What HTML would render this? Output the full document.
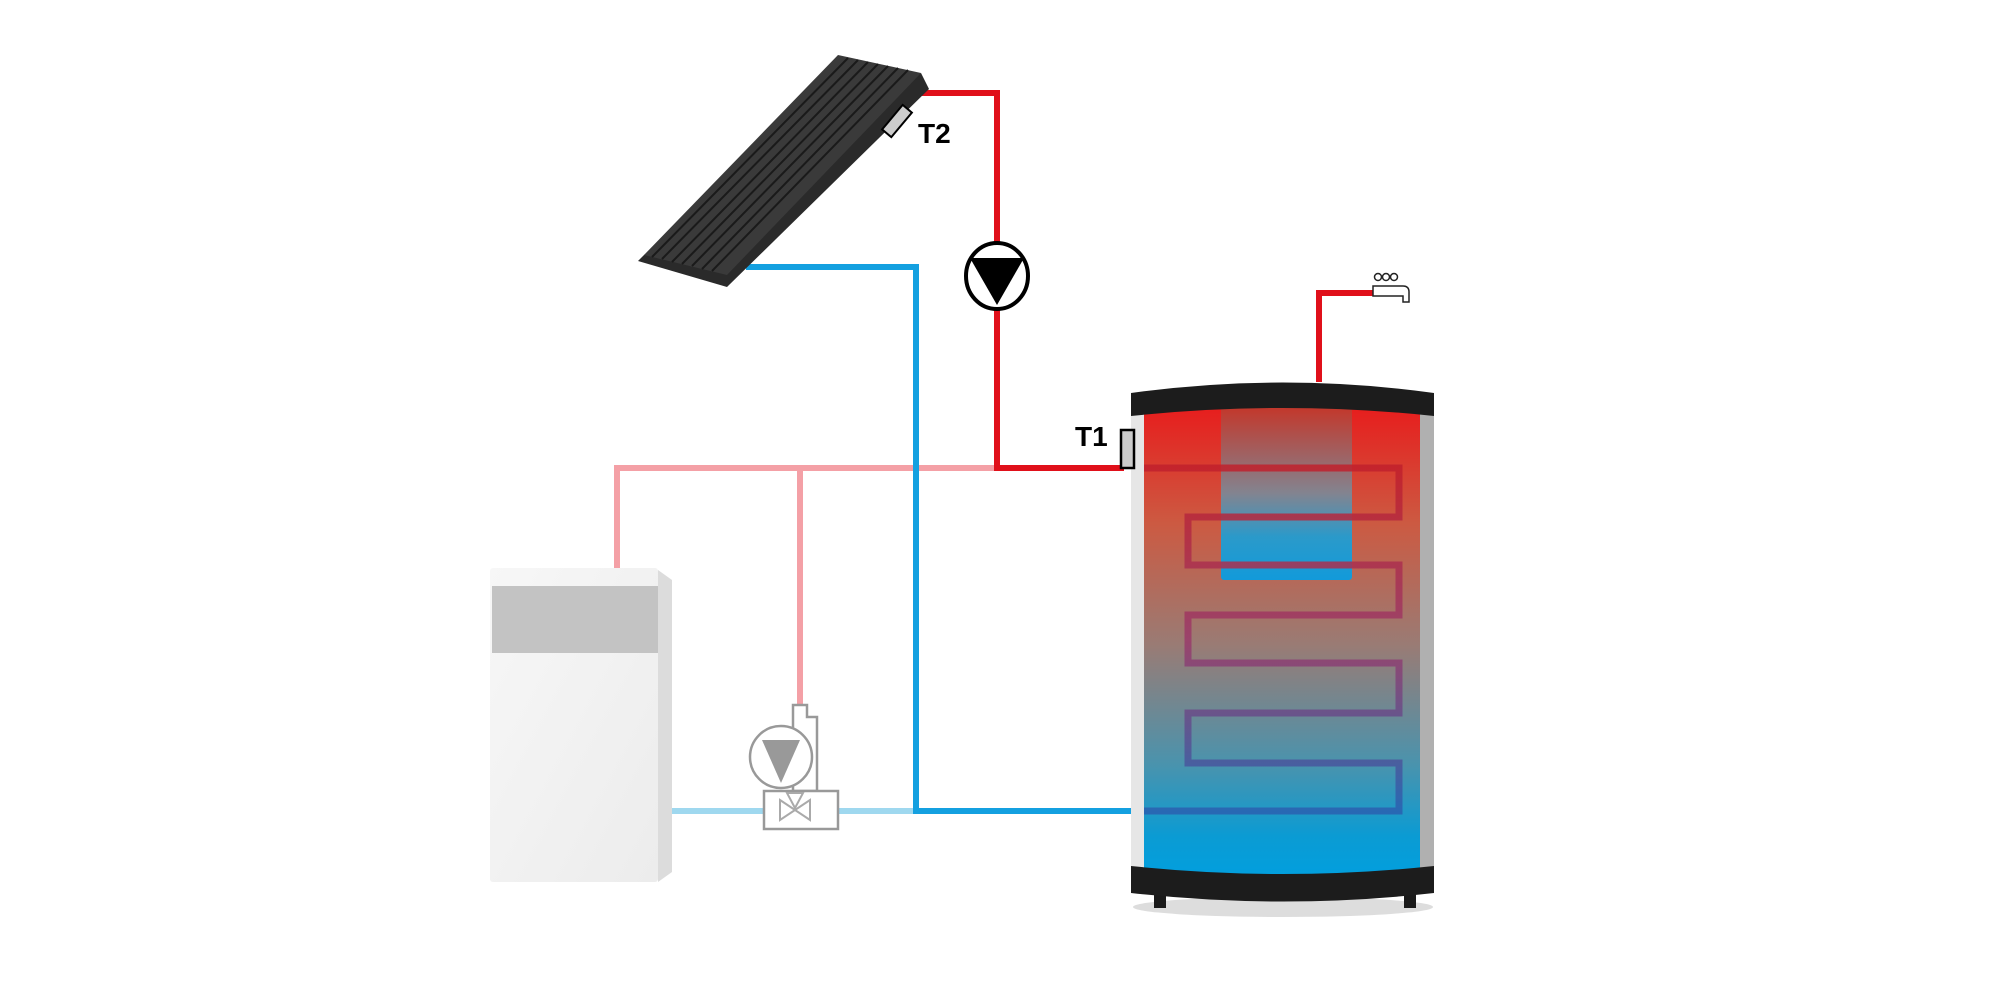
<!DOCTYPE html>
<html><head><meta charset="utf-8"><style>html,body{margin:0;padding:0;background:#fff;width:2000px;height:1000px;overflow:hidden}</style></head>
<body>
<svg width="2000" height="1000" viewBox="0 0 2000 1000" xmlns="http://www.w3.org/2000/svg">
<defs>
<linearGradient id="tg" x1="0" y1="0" x2="0" y2="1">
<stop offset="0" stop-color="#e81c1c"/><stop offset="0.25" stop-color="#cc5a42"/><stop offset="0.5" stop-color="#9a7b74"/><stop offset="0.75" stop-color="#4a93ad"/><stop offset="0.9" stop-color="#0b9bd3"/><stop offset="1" stop-color="#00a0e0"/></linearGradient>
<linearGradient id="cg" x1="0" y1="0" x2="0" y2="1">
<stop offset="0" stop-color="#c0392b"/><stop offset="0.5" stop-color="#7a8a99"/><stop offset="0.75" stop-color="#1aa0d8"/><stop offset="1" stop-color="#00a0e8"/></linearGradient>
<linearGradient id="coil" x1="0" y1="0" x2="0" y2="1">
<stop offset="0" stop-color="#c0202c"/><stop offset="0.5" stop-color="#9a3a6a"/><stop offset="1" stop-color="#2a60b0"/></linearGradient>
<linearGradient id="bg" x1="0" y1="0" x2="1" y2="1"><stop offset="0" stop-color="#f7f7f7"/><stop offset="1" stop-color="#ececec"/></linearGradient>
</defs>
<!-- pipes -->
<polyline points="617,568 617,468 1000,468" fill="none" stroke="#f4a0a6" stroke-width="6"/>
<line x1="800" y1="468" x2="800" y2="705" stroke="#f4a0a6" stroke-width="6"/>
<line x1="668" y1="811" x2="920" y2="811" stroke="#9fd8ef" stroke-width="6"/>
<polyline points="746,267 916,267 916,811 1134,811" fill="none" stroke="#14a0e0" stroke-width="6"/>
<polyline points="915,93 997,93 997,468 1124,468" fill="none" stroke="#e0101a" stroke-width="6"/>
<polyline points="1319,382 1319,293 1373,293" fill="none" stroke="#e0101a" stroke-width="6"/>
<!-- solar panel -->
<polygon points="644,255 638,261 727,287 929,89 921,73" fill="#2a2a2a"/>
<polygon points="838,55 921,73 727,275 644,255" fill="#3a3a3a"/>
<g stroke="#1a1a1a" stroke-width="2">
<line x1="848" y1="58" x2="652" y2="257"/><line x1="858" y1="60" x2="662" y2="259"/><line x1="868" y1="62" x2="672" y2="262"/><line x1="878" y1="64" x2="682" y2="264"/><line x1="888" y1="66" x2="692" y2="266"/><line x1="898" y1="68" x2="702" y2="269"/><line x1="908" y1="70" x2="712" y2="271"/></g>
<g transform="translate(897,121) rotate(-50)"><rect x="-16" y="-6" width="32" height="12" fill="#ccc" stroke="#000" stroke-width="2"/></g>
<text x="918" y="143" font-family="Liberation Sans, sans-serif" font-weight="bold" font-size="28">T2</text>
<!-- pump -->
<ellipse cx="997" cy="276" rx="31" ry="33" fill="#fff" stroke="#000" stroke-width="4"/>
<polygon points="970,258 1024,258 997,305" fill="#000"/>
<!-- boiler -->
<polygon points="658,570 672,580 672,872 658,882" fill="#dcdcdc"/>
<rect x="490" y="568" width="168" height="314" rx="3" fill="url(#bg)"/>
<rect x="492" y="586" width="166" height="67" fill="#c3c3c3"/>
<!-- mixing valve -->
<g stroke="#999" stroke-width="2.5" fill="#fff">
<path d="M793,717 v-12 h14 v12 h10 v74 h-24 z"/>
<circle cx="781" cy="757" r="31"/>
<rect x="764" y="791" width="74" height="38"/>
</g>
<polygon points="762,740 800,740 781,783" fill="#999"/>
<g stroke="#aaa" stroke-width="2" fill="none"><polygon points="780,800 810,820 810,800 780,820"/><polygon points="787,793 803,793 795,808"/></g>
<!-- tank -->
<ellipse cx="1283" cy="907" rx="150" ry="10" fill="#ddd"/>
<rect x="1154" y="890" width="12" height="18" fill="#1a1a1a"/><rect x="1404" y="890" width="12" height="18" fill="#1a1a1a"/>
<rect x="1131" y="400" width="303" height="480" fill="#e6e6e6"/>
<rect x="1420" y="400" width="14" height="480" fill="#b0b0b0"/>
<rect x="1144" y="404" width="276" height="480" fill="url(#tg)"/>
<rect x="1221" y="406" width="131" height="174" rx="3" fill="url(#cg)" opacity="0.9"/>
<polyline points="1144,468 1399,468 1399,517 1188,517 1188,565 1399,565 1399,615 1188,615 1188,663 1399,663 1399,713 1188,713 1188,763 1399,763 1399,811 1144,811" fill="none" stroke="url(#coil)" stroke-width="7" opacity="0.85"/>
<path d="M1131,416 V393 Q1283,372 1434,393 V416 Q1283,400 1131,416 Z" fill="#1c1c1c"/>
<path d="M1131,866 Q1283,882 1434,866 V893 Q1283,910 1131,893 Z" fill="#1c1c1c"/>
<rect x="1121" y="430" width="13" height="38" fill="#ccc" stroke="#000" stroke-width="2.5"/>
<text x="1075" y="446" font-family="Liberation Sans, sans-serif" font-weight="bold" font-size="28">T1</text>
<!-- tap -->
<g stroke="#222" stroke-width="1.5" fill="#fff">
<circle cx="1378" cy="277" r="3.5"/><circle cx="1386" cy="277" r="3.5"/><circle cx="1394" cy="277" r="3.5"/>
<path d="M1373,286 h30 q6,0 6,6 v10 h-6 v-6 h-30 z"/></g>
</svg>
</body></html>
